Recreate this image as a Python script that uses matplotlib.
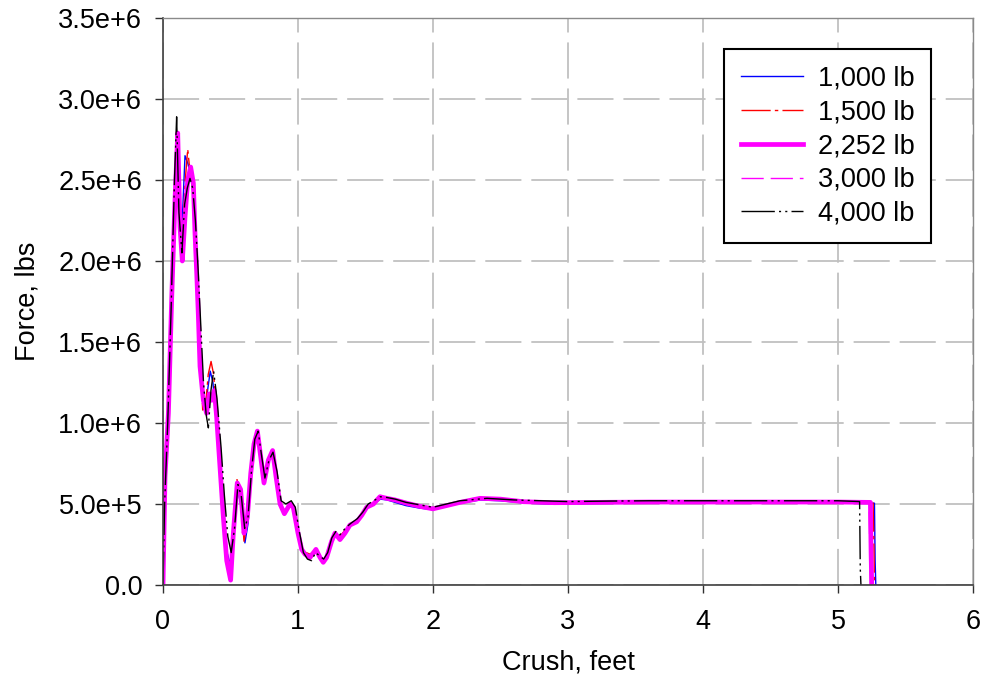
import matplotlib
matplotlib.use("Agg")
import matplotlib.pyplot as plt

plt.rcParams['font.family'] = ['Liberation Sans', 'DejaVu Sans']

# ---- data (force in millions of lbs) ----
x_1000 = [0, 0.015, 0.04, 0.064, 0.089, 0.105, 0.122, 0.14, 0.163, 0.185, 0.205, 0.225, 0.24, 0.255, 0.27,
          0.29, 0.31, 0.33, 0.35, 0.37, 0.39, 0.42, 0.45, 0.475, 0.5, 0.52, 0.55, 0.575, 0.607, 0.63,
          0.65, 0.675, 0.7, 0.725, 0.75, 0.78, 0.81, 0.84, 0.87, 0.9, 0.94, 0.97, 1.0, 1.03, 1.06,
          1.09, 1.13, 1.16, 1.19, 1.22, 1.25, 1.28, 1.31, 1.35, 1.39, 1.44, 1.48, 1.52, 1.56, 1.61,
          1.66, 1.72, 1.8, 1.9, 2.0, 2.1, 2.2, 2.35, 2.5, 2.7, 2.9, 3.2, 3.6, 4.0, 4.5, 5.0, 5.27, 5.275, 5.28]
f_1000 = [0, 0.65, 1.05, 1.75, 2.35, 2.7, 2.3, 2.2, 2.65, 2.6, 2.52, 2.4, 2.05, 1.78, 1.45,
          1.2, 1.1, 1.2, 1.32, 1.25, 1.05, 0.72, 0.4, 0.2, 0.12, 0.3, 0.6, 0.5, 0.26, 0.38,
          0.66, 0.88, 0.93, 0.78, 0.62, 0.76, 0.8, 0.66, 0.5, 0.45, 0.5, 0.47, 0.33, 0.22, 0.19,
          0.17, 0.21, 0.17, 0.15, 0.18, 0.27, 0.31, 0.29, 0.34, 0.37, 0.4, 0.44, 0.48, 0.5, 0.53,
          0.525, 0.51, 0.49, 0.475, 0.465, 0.485, 0.505, 0.525, 0.52, 0.505, 0.5, 0.503, 0.505, 0.505, 0.505, 0.505, 0.505, 0.15, 0.0]

x_1500 = [0, 0.015, 0.04, 0.064, 0.089, 0.108, 0.125, 0.143, 0.165, 0.183, 0.2, 0.22, 0.24, 0.255, 0.27,
          0.294, 0.315, 0.335, 0.356, 0.375, 0.395, 0.42, 0.445, 0.47, 0.497, 0.52, 0.548, 0.575, 0.6, 0.625,
          0.65, 0.675, 0.7, 0.725, 0.75, 0.78, 0.81, 0.84, 0.87, 0.9, 0.94, 0.97, 1.0, 1.03, 1.06,
          1.09, 1.13, 1.16, 1.19, 1.22, 1.25, 1.28, 1.31, 1.35, 1.39, 1.44, 1.48, 1.52, 1.56, 1.61,
          1.66, 1.72, 1.8, 1.9, 2.0, 2.1, 2.2, 2.35, 2.5, 2.7, 2.9, 3.2, 3.6, 4.0, 4.5, 5.0, 5.26, 5.265, 5.27]
f_1500 = [0, 0.7, 1.1, 1.8, 2.4, 2.75, 2.25, 2.1, 2.5, 2.69, 2.55, 2.45, 2.1, 1.8, 1.5,
          1.08, 1.1, 1.3, 1.38, 1.3, 1.1, 0.75, 0.42, 0.18, 0.08, 0.3, 0.65, 0.55, 0.27, 0.4,
          0.68, 0.88, 0.94, 0.8, 0.64, 0.78, 0.82, 0.67, 0.5, 0.45, 0.5, 0.48, 0.32, 0.21, 0.2,
          0.19, 0.22, 0.18, 0.15, 0.18, 0.28, 0.32, 0.3, 0.34, 0.38, 0.4, 0.44, 0.49, 0.51, 0.54,
          0.535, 0.52, 0.505, 0.485, 0.475, 0.495, 0.515, 0.535, 0.528, 0.51, 0.505, 0.508, 0.51, 0.51, 0.51, 0.51, 0.51, 0.3, 0.0]

x_2252 = [0, 0.015, 0.04, 0.064, 0.089, 0.109, 0.126, 0.143, 0.163, 0.183, 0.205, 0.225, 0.237, 0.25, 0.262,
          0.274, 0.299, 0.323, 0.343, 0.36, 0.38, 0.397, 0.422, 0.447, 0.472, 0.501, 0.521, 0.55, 0.575, 0.6,
          0.625, 0.65, 0.674, 0.699, 0.724, 0.748, 0.78, 0.812, 0.837, 0.867, 0.899, 0.941, 0.965, 1.0, 1.027,
          1.052, 1.089, 1.133, 1.163, 1.187, 1.212, 1.249, 1.274, 1.311, 1.348, 1.385, 1.435, 1.472, 1.509, 1.559,
          1.607, 1.657, 1.719, 1.805, 1.904, 2.0, 2.1, 2.2, 2.348, 2.5, 2.67, 2.9, 3.2, 3.6, 4.0, 4.5, 5.0, 5.24, 5.245, 5.25]
f_2252 = [0, 0.67, 1.06, 1.76, 2.38, 2.79, 2.21, 2.0, 2.27, 2.5, 2.58, 2.48, 2.17, 1.92, 1.66,
          1.35, 1.14, 1.06, 1.18, 1.14, 1.2, 1.04, 0.73, 0.42, 0.15, 0.03, 0.32, 0.63, 0.59, 0.32,
          0.42, 0.69, 0.87, 0.95, 0.79, 0.63, 0.77, 0.83, 0.67, 0.5, 0.44, 0.5, 0.48, 0.32, 0.22,
          0.19, 0.17, 0.22, 0.17, 0.14, 0.17, 0.27, 0.32, 0.28, 0.32, 0.37, 0.39, 0.43, 0.48, 0.5,
          0.545, 0.535, 0.525, 0.505, 0.485, 0.47, 0.49, 0.51, 0.535, 0.53, 0.514, 0.508, 0.51, 0.512, 0.512, 0.512, 0.512, 0.51, 0.2, 0.0]

x_3000 = [0, 0.015, 0.04, 0.064, 0.089, 0.11, 0.127, 0.145, 0.165, 0.185, 0.205, 0.225, 0.24, 0.252, 0.265,
          0.28, 0.3, 0.322, 0.342, 0.36, 0.38, 0.4, 0.425, 0.45, 0.475, 0.502, 0.522, 0.55, 0.575, 0.6,
          0.625, 0.65, 0.675, 0.7, 0.725, 0.75, 0.78, 0.81, 0.84, 0.87, 0.9, 0.94, 0.965, 1.0, 1.027,
          1.055, 1.09, 1.13, 1.163, 1.187, 1.212, 1.25, 1.275, 1.31, 1.35, 1.39, 1.44, 1.47, 1.51, 1.56,
          1.61, 1.66, 1.72, 1.8, 1.9, 2.0, 2.1, 2.2, 2.35, 2.5, 2.67, 2.9, 3.2, 3.6, 4.0, 4.5, 5.0, 5.23, 5.235, 5.24]
f_3000 = [0, 0.68, 1.08, 1.78, 2.37, 2.77, 2.22, 2.02, 2.28, 2.48, 2.56, 2.46, 2.15, 1.9, 1.62,
          1.32, 1.13, 1.07, 1.17, 1.15, 1.19, 1.05, 0.74, 0.43, 0.16, 0.04, 0.33, 0.62, 0.58, 0.33,
          0.43, 0.68, 0.86, 0.94, 0.8, 0.64, 0.76, 0.82, 0.68, 0.51, 0.45, 0.5, 0.48, 0.33, 0.22,
          0.19, 0.17, 0.22, 0.17, 0.15, 0.17, 0.27, 0.32, 0.29, 0.33, 0.37, 0.39, 0.43, 0.48, 0.5,
          0.54, 0.533, 0.523, 0.503, 0.485, 0.472, 0.49, 0.51, 0.533, 0.528, 0.513, 0.507, 0.51, 0.511, 0.511, 0.511, 0.511, 0.51, 0.25, 0.0]

x_4000 = [0, 0.012, 0.035, 0.06, 0.085, 0.101, 0.118, 0.14, 0.16, 0.18, 0.2, 0.22, 0.24, 0.26, 0.28,
          0.3, 0.32, 0.336, 0.355, 0.375, 0.4, 0.43, 0.455, 0.48, 0.505, 0.53, 0.555, 0.58, 0.605, 0.63,
          0.655, 0.68, 0.705, 0.73, 0.755, 0.785, 0.815, 0.845, 0.875, 0.91, 0.95, 0.98, 1.01, 1.04, 1.07,
          1.1, 1.13, 1.16, 1.19, 1.22, 1.25, 1.28, 1.31, 1.35, 1.39, 1.44, 1.48, 1.52, 1.56, 1.61,
          1.66, 1.72, 1.8, 1.9, 2.0, 2.1, 2.2, 2.4, 2.6, 2.8, 3.0, 3.3, 3.6, 4.0, 4.5, 5.0, 5.16, 5.165, 5.17]
f_4000 = [0, 0.5, 1.0, 1.7, 2.5, 2.89, 2.3, 2.05, 2.35, 2.45, 2.51, 2.45, 2.25, 1.95, 1.6,
          1.25, 1.05, 0.97, 1.2, 1.32, 1.15, 0.85, 0.55, 0.3, 0.2, 0.35, 0.62, 0.55, 0.35, 0.42,
          0.7, 0.9, 0.95, 0.8, 0.66, 0.77, 0.82, 0.7, 0.52, 0.5, 0.52, 0.48, 0.33, 0.2, 0.16,
          0.15, 0.2, 0.18, 0.16, 0.2, 0.29, 0.33, 0.31, 0.35, 0.38, 0.41, 0.45, 0.5, 0.52, 0.545,
          0.54, 0.53, 0.51, 0.495, 0.48, 0.5, 0.52, 0.535, 0.525, 0.52, 0.515, 0.518, 0.52, 0.52, 0.52, 0.52, 0.515, 0.1, 0.0]

series_labels = ["1,000 lb", "1,500 lb", "2,252 lb", "3,000 lb", "4,000 lb"]
x_ticks = [0, 1, 2, 3, 4, 5, 6]
y_ticks = [0, 0.5e6, 1.0e6, 1.5e6, 2.0e6, 2.5e6, 3.0e6, 3.5e6]
y_tick_labels = ["0.0", "5.0e+5", "1.0e+6", "1.5e+6", "2.0e+6", "2.5e+6", "3.0e+6", "3.5e+6"]

FS = 19.5

fig = plt.figure(figsize=(9.85, 6.78), dpi=100)
ax = fig.add_axes([163/985, 1-585/678, 810/985, 567/678])

scale = 1e6
styles = [
    dict(color='#0000ff', lw=1.0, ls='-'),
    dict(color='#ff0000', lw=1.0, ls=(0, (21, 3, 2.5, 3))),
    dict(color='#ff00ff', lw=3.4, ls='-'),
    dict(color='#ff00ff', lw=1.0, ls=(0, (16, 5))),
    dict(color='#000000', lw=1.0, ls=(0, (24, 3, 1.5, 3, 1.5, 3))),
]
data = [(x_1000, f_1000), (x_1500, f_1500), (x_2252, f_2252), (x_3000, f_3000), (x_4000, f_4000)]
for (xs, fs), lab, st in zip(data, series_labels, styles):
    ax.plot(xs, [v * scale for v in fs], label=lab, solid_joinstyle='round',
            dash_joinstyle='round', **st)

ax.set_xlim(0, 6)
ax.set_ylim(0, 3.5e6)
ax.set_xticks(x_ticks)
ax.set_xticklabels([str(t) for t in x_ticks])
ax.set_yticks(y_ticks)
ax.set_yticklabels(y_tick_labels)

ax.grid(True, color='#c0c0c0', lw=1.3, ls=(0, (20, 5.5)))
ax.set_axisbelow(True)
ax.tick_params(axis='both', direction='out', length=6, width=1, colors='#303030',
               labelsize=FS, labelcolor='black')
ax.tick_params(axis='y', pad=9)
ax.tick_params(axis='x', pad=11)

for side in ('left', 'bottom'):
    ax.spines[side].set_color('#404040')
    ax.spines[side].set_linewidth(1.2)
for side in ('top', 'right'):
    ax.spines[side].set_color('#8a8a8a')
    ax.spines[side].set_linewidth(1.0)

ax.set_xlabel("Crush, feet", fontsize=FS, labelpad=11)
ax.set_ylabel("Force, lbs", fontsize=FS, labelpad=13)

leg = ax.legend(loc='upper right', bbox_to_anchor=(0.948, 0.945), borderaxespad=0,
                fontsize=FS, frameon=True, fancybox=False, framealpha=1,
                edgecolor='black', handlelength=2.3, handletextpad=0.55,
                labelspacing=0.29, borderpad=0.6)
leg.get_frame().set_linewidth(1.5)

fig.savefig("out.png", dpi=100)
